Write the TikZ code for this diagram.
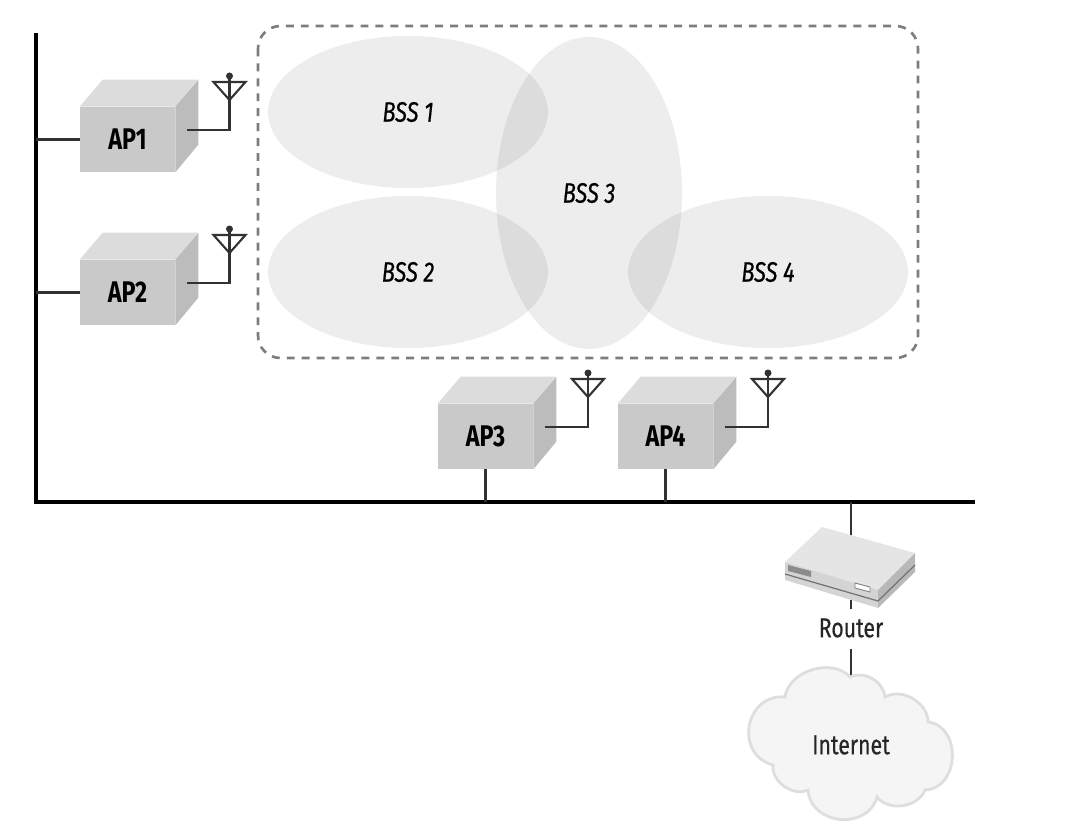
\documentclass[tikz,border=0pt]{standalone}
\usepackage{fontspec}
\setmainfont[FakeStretch=0.78]{Fira Sans}
\newfontfamily\labelfont[FakeStretch=0.78,FakeBold=0.5]{Fira Sans}
\usepackage{tikz}
\usetikzlibrary{calc,positioning,shapes.geometric}
\definecolor{apfront}{RGB}{201,201,201}
\definecolor{aptop}{RGB}{220,220,220}
\definecolor{apside}{RGB}{188,188,188}
\definecolor{dashgray}{RGB}{125,125,125}
\definecolor{linegray}{RGB}{50,50,50}
\definecolor{cloudfill}{RGB}{245,245,245}
\definecolor{cloudedge}{RGB}{222,222,222}

\begin{document}
\begin{tikzpicture}[
  x=0.02cm, y=-0.02cm,
  bus/.style={black, line width=2pt},
  wire/.style={linegray, line width=1.2pt},
  apbox/.style={rectangle, fill=apfront, minimum width=1.9cm, minimum height=1.3cm,
    inner sep=0pt, font=\fontsize{17}{17}\selectfont\bfseries},
  topface/.style={fill=aptop},
  sideface/.style={fill=apside},
  bss/.style={ellipse, fill=black, fill opacity=0.07, text opacity=1, inner sep=0pt,
    font=\labelfont\fontsize{16}{16}\selectfont\itshape},
  plain/.style={inner sep=0pt, font=\labelfont\fontsize{15.5}{16}\selectfont, text=black!85},
  antenna/.pic={
    \draw[wire] (-16,6) -- (16,6) -- (0,24) -- cycle;
    \fill[linegray] (0,0) circle (3.5);
  },
]
  \useasboundingbox (0,0) rectangle (1076,828);

  % Coverage areas
  \draw[dashgray, line width=1.5pt, dash pattern=on 4.5pt off 4pt, rounded corners=0.45cm]
    (258,26) rectangle (918,358);
  \node[bss, minimum width=5.6cm, minimum height=3.04cm] (bss1) at (408,112) {BSS 1};
  \node[bss, minimum width=5.6cm, minimum height=3.04cm] (bss2) at (408,272) {BSS 2};
  \node[bss, minimum width=3.72cm, minimum height=6.24cm] (bss3) at (589,193) {BSS 3};
  \node[bss, minimum width=5.6cm, minimum height=3.04cm] (bss4) at (768,272) {BSS 4};

  % Backbone
  \coordinate (busa) at (36,33);
  \coordinate (busb) at (36,502);
  \coordinate (busc) at (975,502);
  \draw[bus] (busa) -- (busb) -- (busc);

  % Access points
  \node[apbox] (ap1) at (127.5,139.5) {AP1};
  \node[apbox] (ap2) at (127.5,292.5) {AP2};
  \node[apbox] (ap3) at (485.5,436.5) {AP3};
  \node[apbox] (ap4) at (665.5,436.5) {AP4};

  \fill[topface] (ap1.north west) -- ++(23,-27) -- ++(95,0) -- (ap1.north east) -- cycle;
  \fill[sideface] (ap1.north east) -- ++(23,-27) -- ++(0,65) -- (ap1.south east) -- cycle;
  \fill[topface] (ap2.north west) -- ++(23,-27) -- ++(95,0) -- (ap2.north east) -- cycle;
  \fill[sideface] (ap2.north east) -- ++(23,-27) -- ++(0,65) -- (ap2.south east) -- cycle;
  \fill[topface] (ap3.north west) -- ++(23,-27) -- ++(95,0) -- (ap3.north east) -- cycle;
  \fill[sideface] (ap3.north east) -- ++(23,-27) -- ++(0,65) -- (ap3.south east) -- cycle;
  \fill[topface] (ap4.north west) -- ++(23,-27) -- ++(95,0) -- (ap4.north east) -- cycle;
  \fill[sideface] (ap4.north east) -- ++(23,-27) -- ++(0,65) -- (ap4.south east) -- cycle;

  % Antennas
  \coordinate (tip1) at (229.5,76);
  \coordinate (tip2) at (229.5,229);
  \coordinate (tip3) at (588,373);
  \coordinate (tip4) at (768,373);
  \coordinate (out1) at (187,130);
  \coordinate (out2) at (187,283);
  \coordinate (out3) at (545,427);
  \coordinate (out4) at (725,427);
  \pic at (tip1) {antenna};
  \pic at (tip2) {antenna};
  \pic at (tip3) {antenna};
  \pic at (tip4) {antenna};
  \draw[wire] (out1) -| (tip1);
  \draw[wire] (out2) -| (tip2);
  \draw[wire] (out3) -| (tip3);
  \draw[wire] (out4) -| (tip4);

  % Drops to the backbone
  \coordinate (j1) at (36,139.5);
  \coordinate (j2) at (36,292.5);
  \coordinate (j3) at (485.5,502);
  \coordinate (j4) at (665.5,502);
  \coordinate (j5) at (851,502);
  \draw[wire] (j1) -- (ap1.west);
  \draw[wire] (j2) -- (ap2.west);
  \draw[wire] (j3) -- (ap3.south);
  \draw[wire] (j4) -- (ap4.south);

  % Router
  \coordinate (rtop) at (851,545);
  \coordinate (rbot) at (851,600);
  \coordinate (rlow) at (851,609);
  \coordinate (nettop) at (851,649);
  \coordinate (netin) at (851,680);
  \node[plain] (router) at (851,628) {Router};
  \draw[wire] (j5) -- (rtop);
  \draw[wire] (rbot) -- (rlow);
  \draw[wire] (nettop) -- (netin);
  \fill[black!10] (785,562) -- (878,590) -- (915,553) -- (822,527) -- cycle;
  \fill[black!17] (785,562) -- (878,590) -- (878,608) -- (785,580) -- cycle;
  \fill[black!28] (878,590) -- (915,553) -- (915,572) -- (878,608) -- cycle;
  \draw[black!55, line width=0.7pt] (785,574) -- (878,601) -- (915,565);
  \fill[black!45] (788,565) -- (811,571) -- (811,577) -- (788,571) -- cycle;
  \draw[black!50, fill=white, line width=0.5pt] (855,583) -- (870,587) -- (870,592) -- (855,588) -- cycle;

  % Cloud
  \draw[cloudedge, fill=cloudfill, line width=1.6pt]
    (785,697) to[bend left=65] (850,677) to[bend left=55] (885,697)
    to[bend left=60] (928,722) to[bend left=85, looseness=1.3] (925,790)
    to[bend left=60] (877,797) to[bend left=80, looseness=1.3] (808,790)
    to[bend left=60] (773,765) to[bend left=85, looseness=1.5] (785,697) -- cycle;
  \node[plain] (internet) at (851,745) {Internet};
\end{tikzpicture}
\end{document}
